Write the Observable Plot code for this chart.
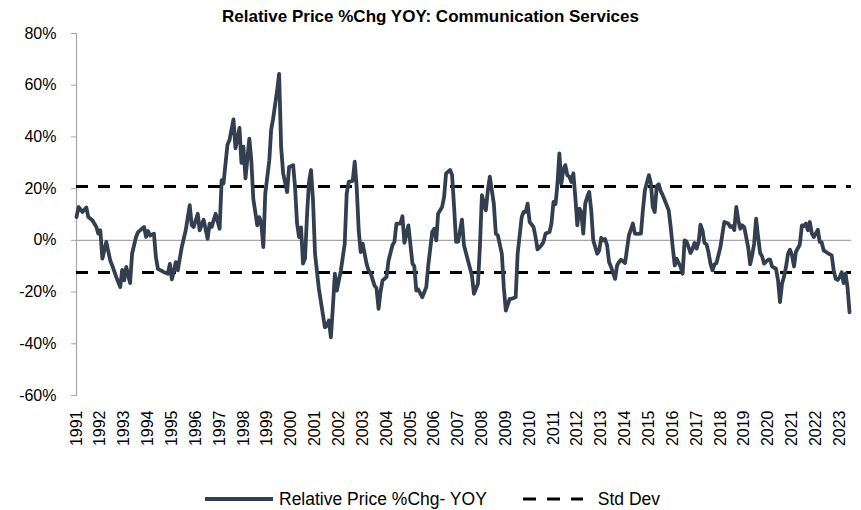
<!DOCTYPE html>
<html><head><meta charset="utf-8">
<script src="https://cdn.jsdelivr.net/npm/d3@7"></script>
<script src="https://cdn.jsdelivr.net/npm/@observablehq/plot@0.6"></script>
<style>
body{margin:0;background:#fff;font-family:"Liberation Sans",Arial,sans-serif;color:#000}
#title{height:26px;padding-top:4px;text-align:center;font-weight:bold;font-size:17px;line-height:26px;font-family:"Liberation Sans Narrow","Liberation Sans",sans-serif}
#legend{height:40px;display:flex;align-items:center;padding-left:205px;font-size:17.5px;margin-top:9px}
#legend .item{display:flex;align-items:center}
</style></head><body>
<div id="title">Relative Price %Chg YOY: Communication Services</div>
<div id="chart"></div>
<div id="legend">
  <div class="item"><svg width="68" height="10"><line x1="0" x2="68" y1="5" y2="5" stroke="#333f50" stroke-width="4"/></svg><span style="margin-left:6px">Relative Price %Chg- YOY</span></div>
  <div class="item" style="margin-left:36px"><svg width="60" height="10"><line x1="0" x2="60" y1="5" y2="5" stroke="#000" stroke-width="3" stroke-dasharray="13,11"/></svg><span style="margin-left:15px">Std Dev</span></div>
</div>
<script>
const months = ["1991-01","1991-02","1991-04","1991-06","1991-07","1991-09","1991-11","1991-12","1992-01","1992-02","1992-04","1992-06","1992-07","1992-09","1992-11","1992-12","1993-01","1993-02","1993-04","1993-05","1993-07","1993-08","1993-11","1993-12","1994-01","1994-02","1994-04","1994-05","1994-06","1994-09","1994-11","1994-12","1995-01","1995-03","1995-04","1995-06","1995-08","1995-10","1995-11","1995-12","1996-02","1996-03","1996-05","1996-07","1996-08","1996-09","1996-11","1997-01","1997-02","1997-03","1997-05","1997-06","1997-08","1997-09","1997-11","1997-12","1998-01","1998-02","1998-04","1998-05","1998-06","1998-08","1998-09","1998-10","1998-11","1998-12","1999-02","1999-03","1999-04","1999-06","1999-07","1999-08","1999-09","1999-11","1999-12","2000-02","2000-03","2000-04","2000-05","2000-06","2000-07","2000-08","2000-09","2000-10","2000-11","2000-12","2001-01","2001-03","2001-06","2001-07","2001-08","2001-09","2001-10","2001-11","2001-12","2002-02","2002-04","2002-05","2002-06","2002-08","2002-09","2002-10","2002-11","2002-12","2003-01","2003-03","2003-04","2003-05","2003-07","2003-08","2003-09","2003-10","2003-11","2004-01","2004-02","2004-04","2004-05","2004-06","2004-08","2004-09","2004-10","2004-12","2005-02","2005-03","2005-04","2005-05","2005-07","2005-09","2005-10","2005-12","2006-01","2006-02","2006-03","2006-05","2006-06","2006-07","2006-09","2006-10","2006-11","2006-12","2007-01","2007-03","2007-04","2007-06","2007-08","2007-09","2007-11","2007-12","2008-01","2008-03","2008-04","2008-05","2008-07","2008-08","2008-09","2008-11","2008-12","2009-01","2009-03","2009-04","2009-06","2009-07","2009-09","2009-10","2009-11","2009-12","2010-01","2010-03","2010-04","2010-05","2010-07","2010-08","2010-09","2010-11","2010-12","2011-01","2011-02","2011-03","2011-04","2011-05","2011-06","2011-07","2011-08","2011-09","2011-10","2011-11","2011-12","2012-01","2012-02","2012-03","2012-04","2012-05","2012-06","2012-07","2012-08","2012-09","2012-11","2012-12","2013-01","2013-02","2013-03","2013-04","2013-05","2013-06","2013-08","2013-09","2013-10","2013-11","2014-01","2014-02","2014-03","2014-05","2014-06","2014-07","2014-09","2014-10","2014-11","2015-01","2015-02","2015-03","2015-04","2015-05","2015-06","2015-07","2015-08","2015-09","2015-11","2015-12","2016-01","2016-02","2016-03","2016-05","2016-06","2016-07","2016-08","2016-10","2016-11","2016-12","2017-01","2017-02","2017-03","2017-04","2017-05","2017-06","2017-07","2017-08","2017-09","2017-10","2017-11","2018-01","2018-02","2018-03","2018-05","2018-06","2018-07","2018-08","2018-09","2018-10","2018-11","2018-12","2019-01","2019-03","2019-04","2019-05","2019-06","2019-07","2019-08","2019-09","2019-10","2019-11","2020-01","2020-02","2020-03","2020-04","2020-05","2020-06","2020-07","2020-08","2020-09","2020-10","2020-11","2020-12","2021-01","2021-02","2021-03","2021-05","2021-06","2021-07","2021-08","2021-09","2021-10","2021-11","2021-12","2022-02","2022-03","2022-04","2022-05","2022-07","2022-09","2022-10","2022-11","2022-12","2023-01","2023-02","2023-03","2023-04","2023-05","2023-06"];
const values = [9.0,12.9,11.0,12.7,9.0,7.8,5.2,2.6,3.9,-7.1,-0.6,-7.8,-9.7,-14.2,-18.1,-11.4,-15.5,-10.3,-16.5,-5.2,1.3,3.2,5.2,1.3,3.6,1.9,2.6,-6.5,-11.0,-12.3,-12.9,-9.1,-15.1,-8.4,-11.6,-2.6,3.9,13.6,5.8,5.2,10.3,3.9,8.0,0.6,6.5,5.2,10.3,4.5,23.3,22.0,37.0,38.8,46.8,35.6,43.5,30.0,36.2,24.0,39.3,31.0,16.0,5.8,9.0,6.5,-2.6,18.1,31.0,42.7,47.2,58.0,64.4,36.0,25.9,18.7,28.4,29.1,20.7,6.5,1.3,5.0,-9.0,-7.0,10.0,22.6,27.2,15.5,-5.2,-18.7,-33.6,-33.0,-31.0,-37.5,-26.0,-12.9,-19.4,-11.6,-1.3,18.1,22.6,23.0,30.4,20.7,3.9,-4.5,-1.3,-9.0,-11.6,-12.5,-17.5,-18.5,-26.5,-20.0,-15.5,-14.2,-7.8,-1.9,-0.6,6.5,6.5,9.3,-1.0,5.8,-9.0,-10.0,-19.4,-19.0,-22.0,-18.1,-9.7,3.2,4.5,0.0,10.3,12.9,16.8,25.9,27.2,25.2,12.9,-0.6,-0.5,8.0,-1.9,-7.8,-13.6,-20.7,-16.8,-2.6,17.5,11.6,19.4,24.6,14.2,2.6,1.9,-5.2,-18.1,-27.2,-22.6,-22.6,-22.0,-5.2,9.0,11.0,11.0,14.2,7.1,5.2,1.3,-3.5,-1.9,-0.6,2.6,3.2,6.5,14.9,14.0,21.3,33.6,22.0,27.2,29.1,25.2,24.6,22.6,25.9,16.8,5.8,12.3,11.0,2.6,14.2,16.8,18.7,11.6,0.0,-5.2,-3.9,1.0,0.0,0.5,-1.9,-8.4,-10.3,-14.9,-9.7,-8.4,-7.5,-8.8,-3.2,1.9,6.5,2.6,2.5,2.6,11.6,19.4,25.2,22.0,12.9,11.0,21.0,21.7,19.0,17.5,15.5,11.6,5.2,-2.6,-9.7,-7.1,-10.3,-12.9,0.0,-0.5,-4.9,-3.2,-1.0,-3.2,-0.6,6.1,3.9,-1.0,-1.5,-4.5,-9.0,-11.6,-9.3,-8.8,-2.6,2.6,7.1,6.5,5.2,5.5,4.0,12.9,7.8,4.5,5.8,5.0,-2.6,-9.3,-5.8,-1.3,8.4,1.3,-4.9,-6.2,-9.0,-7.5,-7.5,-10.1,-10.6,-11.0,-15.5,-23.9,-16.8,-14.0,-10.3,-5.2,-3.6,-5.8,-10.1,-4.5,-1.6,5.8,5.5,6.5,3.9,7.1,2.6,1.3,4.1,-0.6,-0.8,-3.9,-4.9,-5.8,-11.6,-14.9,-15.3,-14.2,-12.3,-16.5,-12.9,-18.1,-27.8];
const stdDev = [20.8, -12.4];
const yTicks = [-60,-40,-20,0,20,40,60,80];
const yearTicks = d3.range(1991, 2024);

const data = months.map((m, i) => ({date: new Date(m + "-01T00:00:00Z"), value: values[i]}));

const chart = Plot.plot({
  width: 861,
  height: 440,
  marginTop: 3,
  marginLeft: 76,
  marginRight: 10,
  marginBottom: 75,
  style: {fontFamily: "'Liberation Sans', Arial, sans-serif", fontSize: "16px", overflow: "visible", color: "#000", background: "#fff"},
  x: {type: "utc", domain: [new Date(Date.UTC(1991,0,1)), new Date(Date.UTC(2023,6,1))]},
  y: {domain: [-60, 80]},
  marks: [
    Plot.ruleY([0], {stroke: "#a6a6a6", strokeWidth: 1.2}),
    Plot.frame({anchor: "left", stroke: "#a6a6a6", strokeWidth: 1.2}),
    Plot.axisY({ticks: yTicks, tickFormat: d => d + "%", tickSize: 5, tickPadding: 15, stroke: "#a6a6a6", fill: "#000", label: null, fontSize: 16}),
    Plot.axisX({ticks: yearTicks.map(y => new Date(Date.UTC(y,0,1))), tickFormat: d3.utcFormat("%Y"), tickRotate: -90, tickSize: 0, tickPadding: 15, label: null, fontSize: 16}),
    Plot.ruleY(stdDev, {stroke: "#000", strokeWidth: 3, strokeDasharray: "12,10"}),
    Plot.line(data, {x: "date", y: "value", stroke: "#333f50", strokeWidth: 3.8, strokeLinejoin: "round", strokeLinecap: "round"})
  ]
});
document.getElementById("chart").appendChild(chart);
</script>
</body></html>
